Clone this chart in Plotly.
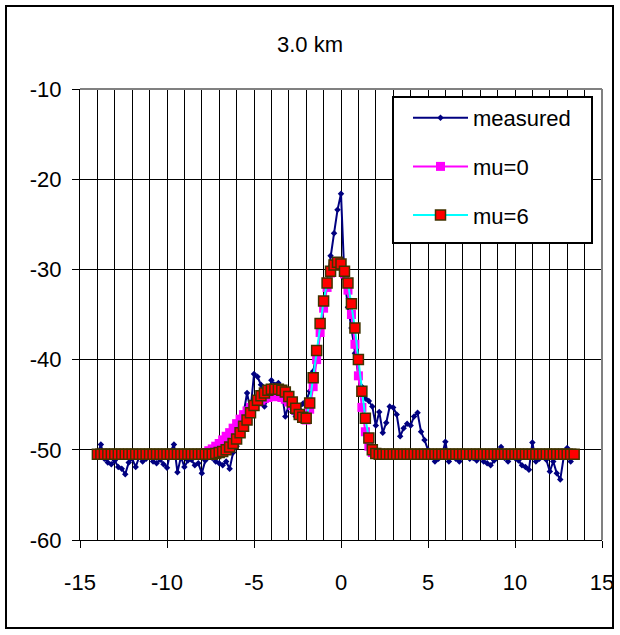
import numpy as np
import plotly.graph_objects as go

# ---- data ----
x_start = -14.0
x_step = 0.2

measured = [
    -50.5, -49.4, -51.0, -51.4, -51.6, -51.2, -51.9, -52.1, -52.7, -51.4,
    -51.0, -51.9, -50.8, -51.3, -51.0, -50.4, -51.3, -51.5, -51.1, -51.6,
    -52.0, -50.2, -49.4, -52.5, -50.8, -51.9, -51.2, -51.1, -51.7, -51.5,
    -52.6, -51.2, -50.8, -50.9, -51.3, -51.5, -51.7, -51.3, -52.1, -50.3,
    -49.6, -47.1, -46.0, -43.7, -45.6, -41.6, -41.9, -42.8, -45.2, -44.4,
    -42.3, -42.8, -42.6, -43.7, -46.3, -45.0, -45.8, -46.3, -45.5, -44.9,
    -44.6, -43.5, -41.3, -39.0, -37.1, -34.0, -31.5, -28.5, -26.0, -23.4,
    -21.6, -31.0, -34.2, -36.5, -39.3, -41.8, -43.0, -44.3, -44.6, -45.2,
    -47.3, -45.8, -48.1, -47.0, -45.2, -45.3, -46.1, -48.5, -47.6, -47.1,
    -47.3, -46.3, -45.9, -48.0, -48.9, -50.0, -50.8, -51.3, -51.0, -50.6,
    -49.1, -51.3, -50.6, -51.0, -51.3, -50.8, -50.4, -51.0, -50.9, -51.2,
    -50.7, -51.3, -51.5, -51.7, -51.2, -50.5, -49.7, -50.9, -51.3, -50.8,
    -50.9, -51.2, -51.7, -51.9, -52.2, -49.2, -51.3, -51.0, -50.6, -51.1,
    -52.4, -51.3, -52.6, -53.3, -50.8, -49.8, -51.3,
]

mu0 = [
    -50.5, -50.5, -50.5, -50.5, -50.5, -50.5, -50.5, -50.5, -50.5, -50.5,
    -50.5, -50.5, -50.5, -50.5, -50.5, -50.5, -50.5, -50.5, -50.5, -50.5,
    -50.5, -50.5, -50.5, -50.5, -50.5, -50.5, -50.5, -50.5, -50.5, -50.5,
    -50.4, -50.3, -50.1, -49.9, -49.6, -49.3, -48.9, -48.5, -48.1, -47.6,
    -47.1, -46.6, -46.1, -45.7, -45.3, -45.0, -44.7, -44.5, -44.3, -44.2,
    -44.1, -44.1, -44.1, -44.2, -44.4, -44.7, -45.1, -45.6, -46.1, -46.5,
    -46.7, -45.5, -43.0, -40.0, -37.0, -34.3, -32.0, -30.4, -29.5, -29.2,
    -29.5, -30.5, -32.3, -35.0, -38.3, -41.8, -45.3, -48.0, -49.6, -50.3,
    -50.5, -50.5, -50.5, -50.5, -50.5, -50.5, -50.5, -50.5, -50.5, -50.5,
    -50.5, -50.5, -50.5, -50.5, -50.5, -50.5, -50.5, -50.5, -50.5, -50.5,
    -50.5, -50.5, -50.5, -50.5, -50.5, -50.5, -50.5, -50.5, -50.5, -50.5,
    -50.5, -50.5, -50.5, -50.5, -50.5, -50.5, -50.5, -50.5, -50.5, -50.5,
    -50.5, -50.5, -50.5, -50.5, -50.5, -50.5, -50.5, -50.5, -50.5, -50.5,
    -50.5, -50.5, -50.5, -50.5, -50.5, -50.5, -50.5, -50.5,
]

mu6 = [
    -50.5, -50.5, -50.5, -50.5, -50.5, -50.5, -50.5, -50.5, -50.5, -50.5,
    -50.5, -50.5, -50.5, -50.5, -50.5, -50.5, -50.5, -50.5, -50.5, -50.5,
    -50.5, -50.5, -50.5, -50.5, -50.5, -50.5, -50.5, -50.5, -50.5, -50.5,
    -50.5, -50.5, -50.5, -50.5, -50.4, -50.3, -50.2, -50.0, -49.7, -49.3,
    -48.8, -48.1, -47.4, -46.7, -45.9, -45.1, -44.5, -44.0, -43.7, -43.4,
    -43.3, -43.3, -43.3, -43.4, -43.6, -44.1, -44.7, -45.4, -46.1, -46.4,
    -46.5, -44.8, -42.0, -39.0, -36.0, -33.5, -31.5, -30.2, -29.5, -29.2,
    -29.4, -30.2, -31.5, -33.8, -36.5, -40.0, -43.5, -46.5, -48.7, -50.0,
    -50.4, -50.5, -50.5, -50.5, -50.5, -50.5, -50.5, -50.5, -50.5, -50.5,
    -50.5, -50.5, -50.5, -50.5, -50.5, -50.5, -50.5, -50.5, -50.5, -50.5,
    -50.5, -50.5, -50.5, -50.5, -50.5, -50.5, -50.5, -50.5, -50.5, -50.5,
    -50.5, -50.5, -50.5, -50.5, -50.5, -50.5, -50.5, -50.5, -50.5, -50.5,
    -50.5, -50.5, -50.5, -50.5, -50.5, -50.5, -50.5, -50.5, -50.5, -50.5,
    -50.5, -50.5, -50.5, -50.5, -50.5, -50.5, -50.5, -50.5,
]

title_text = "3.0 km"
x_tick_vals = [-15, -10, -5, 0, 5, 10, 15]
x_tick_text = ["-15", "-10", "-5", "0", "5", "10", "15"]
y_tick_vals = [-60, -50, -40, -30, -20, -10]
y_tick_text = ["-60", "-50", "-40", "-30", "-20", "-10"]

x_meas = np.round(x_start + x_step * np.arange(len(measured)), 2)
x_mod0 = np.round(x_start + x_step * np.arange(len(mu0)), 2)
x_mod6 = np.round(x_start + x_step * np.arange(len(mu6)), 2)

FONT = "Liberation Sans, Arial, sans-serif"

fig = go.Figure()
fig.add_trace(go.Scatter(
    x=x_meas, y=measured, name="measured", mode="lines+markers",
    line=dict(color="#000080", width=2),
    marker=dict(symbol="diamond", size=5, color="#000080"),
    legendgroup="g1"))
fig.add_trace(go.Scatter(
    x=x_mod0, y=mu0, name="mu=0", mode="lines+markers",
    line=dict(color="#FF00FF", width=2),
    marker=dict(symbol="square", size=9, color="#FF00FF"),
    legendgroup="g2"))
fig.add_trace(go.Scatter(
    x=x_mod6, y=mu6, name="mu=6", mode="lines+markers",
    line=dict(color="#00FFFF", width=2),
    marker=dict(symbol="square", size=10, color="#FF0000",
                line=dict(color="#403300", width=1.5)),
    legendgroup="g3"))

L, R, T, B = 80, 18, 89, 95
W, H = 620, 635
pw, ph = W - L - R, H - T - B

def px(xp):
    return (xp - L) / pw

def py(yp):
    return (H - B - yp) / ph

shapes = [
    # outer chart frame
    dict(type="rect", xref="paper", yref="paper",
         x0=px(6), x1=px(613), y0=py(628), y1=py(6),
         line=dict(color="black", width=2), layer="above"),
    # plot area top / right border (gray)
    dict(type="line", xref="paper", yref="paper", x0=0, x1=1, y0=1, y1=1,
         line=dict(color="#808080", width=2), layer="above"),
    dict(type="line", xref="paper", yref="paper", x0=1, x1=1, y0=0, y1=1,
         line=dict(color="#808080", width=2), layer="above"),
    # legend box
    dict(type="rect", xref="paper", yref="paper",
         x0=px(393), x1=px(592), y0=py(243), y1=py(97),
         line=dict(color="black", width=2), fillcolor="white", layer="above"),
]

fig.update_layout(
    width=W, height=H,
    margin=dict(l=L, r=R, t=T, b=B, autoexpand=False),
    paper_bgcolor="white", plot_bgcolor="white",
    font=dict(family=FONT, size=20, color="black"),
    showlegend=True,
    legend=dict(x=px(408), y=py(97), xanchor="left", yanchor="top",
                bgcolor="rgba(0,0,0,0)", borderwidth=0,
                font=dict(family=FONT, size=22, color="black"),
                tracegroupgap=17, itemwidth=55),
    shapes=shapes,
    annotations=[dict(text=title_text, xref="paper", yref="paper",
                      x=px(310), y=py(45), showarrow=False,
                      xanchor="center", yanchor="middle",
                      font=dict(family=FONT, size=22, color="black"))],
)

fig.update_xaxes(
    range=[-15, 15], tickvals=x_tick_vals, ticktext=x_tick_text,
    ticks="outside", ticklen=7, automargin=False,
    tickcolor="black", tickwidth=1, showline=True, linecolor="black",
    linewidth=1, showgrid=True, gridcolor="black", gridwidth=1,
    zeroline=False, ticklabelstandoff=16,
    minor=dict(dtick=1, tick0=0, showgrid=True, gridcolor="black",
               gridwidth=1, ticks=""),
    tickfont=dict(family=FONT, size=22, color="black"))
fig.update_yaxes(
    range=[-60, -10], tickvals=y_tick_vals, ticktext=y_tick_text,
    ticks="outside", ticklen=7, automargin=False,
    tickcolor="black", tickwidth=1, showline=True, linecolor="black",
    linewidth=1, showgrid=True, gridcolor="black", gridwidth=1,
    zeroline=False, ticklabelstandoff=6,
    tickfont=dict(family=FONT, size=22, color="black"))

fig.write_html("out.html",
               config={"displayModeBar": False},
               post_script="document.body.style.margin='0';"
                           "document.body.style.overflow='hidden';")
